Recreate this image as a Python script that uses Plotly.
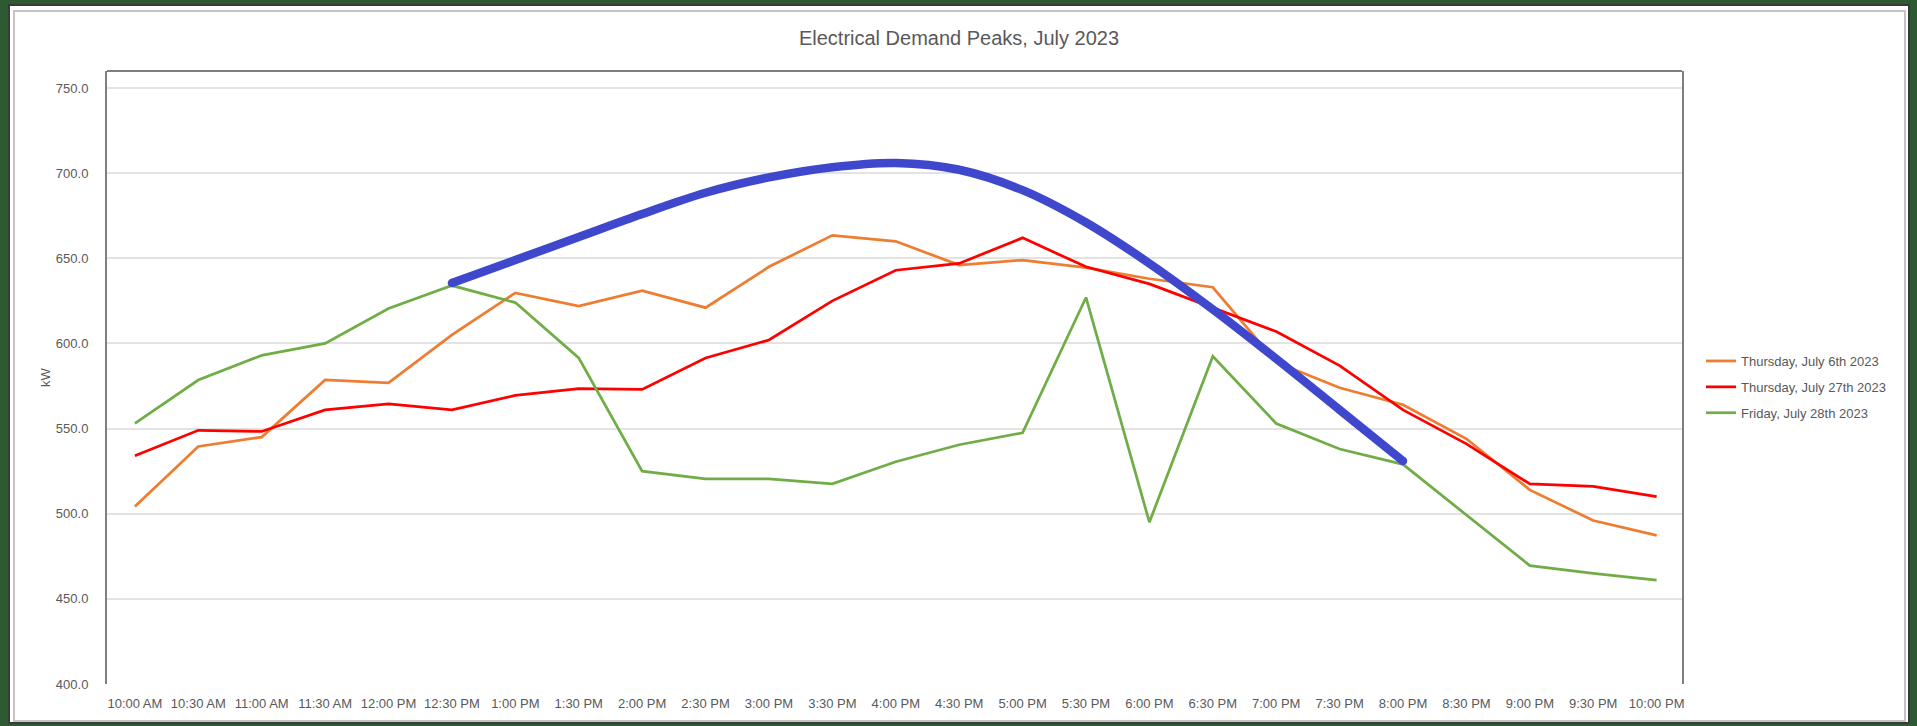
import plotly.graph_objects as go

times = ["10:00 AM", "10:30 AM", "11:00 AM", "11:30 AM", "12:00 PM", "12:30 PM",
         "1:00 PM", "1:30 PM", "2:00 PM", "2:30 PM", "3:00 PM", "3:30 PM", "4:00 PM",
         "4:30 PM", "5:00 PM", "5:30 PM", "6:00 PM", "6:30 PM", "7:00 PM", "7:30 PM",
         "8:00 PM", "8:30 PM", "9:00 PM", "9:30 PM", "10:00 PM"]

july6 = [504.3, 539.5, 545.0, 578.6, 576.9, 605.0, 629.7, 622.0, 631.0, 621.0, 645.0,
         663.5, 660.0, 646.0, 649.0, 644.5, 638.0, 633.0, 589.0, 574.0, 564.0, 544.0,
         514.0, 496.0, 487.3]
july27 = [534.0, 549.0, 548.3, 561.0, 564.5, 561.0, 569.5, 573.5, 573.0, 591.5, 602.0,
          625.0, 643.0, 647.0, 662.0, 645.0, 635.0, 621.0, 607.0, 587.0, 561.0, 541.0,
          517.5, 516.0, 510.0]
july28 = [553.0, 578.5, 593.0, 600.0, 620.5, 634.0, 624.0, 591.5, 525.0, 520.5, 520.5,
          517.5, 530.5, 540.5, 547.5, 627.0, 495.0, 592.5, 553.0, 538.0, 529.0, 499.0,
          469.5, 465.0, 461.0]

# hand-drawn trend arc (12:30 PM .. 8:00 PM)
arc_times = times[5:21]
arc_vals = [635.5, 649.0, 662.5, 676.0, 688.5, 697.5, 703.5, 706.0, 702.0, 690.0,
            671.0, 647.0, 620.0, 591.0, 561.0, 531.0]

series_names = ["Thursday, July 6th 2023", "Thursday, July 27th 2023", "Friday, July 28th 2023"]
series_colors = ["#ED7D31", "#FF0000", "#70AD47"]

FONT = "Liberation Sans"
GREY = "#595959"

fig = go.Figure()
for name, vals, col in zip(series_names, [july6, july27, july28], series_colors):
    fig.add_trace(go.Scatter(x=times, y=vals, mode="lines", name=name,
                             legendgroup=name,
                             line=dict(color=col, width=2.75), hoverinfo="skip"))

fig.add_trace(go.Scatter(x=arc_times, y=arc_vals, mode="lines", showlegend=False,
                         line=dict(color="#3F48CC", width=8.5, shape="spline", smoothing=1.0),
                         hoverinfo="skip"))
# rounded ends of the hand-drawn stroke
fig.add_trace(go.Scatter(x=[arc_times[0], arc_times[-1]], y=[arc_vals[0], arc_vals[-1]],
                         mode="markers", showlegend=False, hoverinfo="skip",
                         marker=dict(color="#3F48CC", size=8.5, line=dict(width=0))))

W, H = 1917, 726
L, R, T, B = 107, 235, 71, 42
pw, ph = W - L - R, H - T - B

def px(x):
    return (x - L) / pw

def py(y):
    return (H - B - y) / ph

fig.update_layout(
    width=W, height=H,
    margin=dict(l=L, r=R, t=T, b=B, pad=0),
    paper_bgcolor="#2E5A32",
    plot_bgcolor="white",
    font=dict(family=FONT, size=13, color=GREY),
    title=dict(text="Electrical Demand Peaks, July 2023", x=959 / W, xanchor="center",
               xref="container", y=1 - 38 / H, yanchor="middle",
               font=dict(size=20, color=GREY, family=FONT)),
    showlegend=True,
    legend=dict(x=px(1701), xanchor="left", y=py(346), yanchor="top",
                font=dict(size=13, color=GREY, family=FONT),
                bgcolor="rgba(0,0,0,0)", tracegroupgap=6, traceorder="grouped",
                itemwidth=30),
    shapes=[
        dict(type="rect", xref="paper", yref="paper", layer="below",
             x0=px(9), x1=px(1909), y0=py(723), y1=py(5),
             fillcolor="white", line=dict(color="#3a3a3a", width=2)),
        dict(type="rect", xref="paper", yref="paper", layer="below",
             x0=px(14), x1=px(1905), y0=py(721), y1=py(11),
             fillcolor="white", line=dict(color="#c4c4c4", width=2)),
        dict(type="line", xref="paper", yref="paper", x0=0, x1=1, y0=1, y1=1,
             line=dict(color="#7f7f7f", width=2)),
    ],
)

fig.update_xaxes(type="category", range=[-0.44, 24.4], showgrid=False, showline=False,
                 zeroline=False, ticks="", tickfont=dict(size=13, color=GREY, family=FONT),
                 tickangle=0, ticklabelstandoff=10)
fig.update_yaxes(range=[400, 760], tickvals=[400, 450, 500, 550, 600, 650, 700, 750],
                 tickformat=".1f", showgrid=True, gridcolor="#e3e3e3", gridwidth=1.5,
                 zeroline=False, showline=True, mirror=True, linecolor="#7f7f7f",
                 linewidth=2, ticks="", tickfont=dict(size=13, color=GREY, family=FONT),
                 ticklabelstandoff=14,
                 title=dict(text="kW", standoff=2, font=dict(size=13, color=GREY, family=FONT)))

fig.write_html("out.html", config={"displayModeBar": False},
               post_script="document.body.style.margin='0px';"
                           "document.documentElement.style.overflow='hidden';"
                           "document.body.style.overflow='hidden';")
